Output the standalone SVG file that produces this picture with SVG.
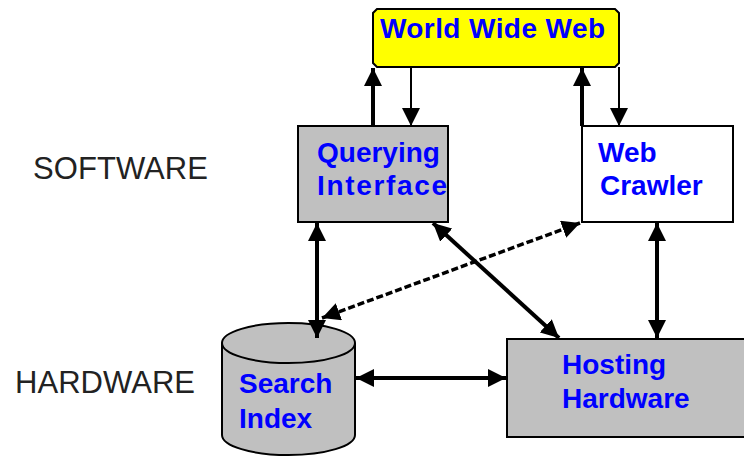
<svg xmlns="http://www.w3.org/2000/svg" width="744" height="456" viewBox="0 0 744 456">
  <style>
    .box { stroke: #000; stroke-width: 2; }
    .gray { fill: #c0c0c0; }
    .label { font-family: "Liberation Sans", Arial, sans-serif; font-weight: bold; font-size: 28px; fill: #0000ff; }
    .side { font-family: "Liberation Sans", Arial, sans-serif; font-size: 31px; fill: #222; }
    .thick { stroke: #000; stroke-width: 4; fill: none; }
    .thin { stroke: #000; stroke-width: 2; fill: none; }
    .dash { stroke: #000; stroke-width: 3.5; fill: none; stroke-dasharray: 7 3; }
  </style>
  <defs>
    <marker id="arrow" markerUnits="userSpaceOnUse" viewBox="0 0 18 18" refX="18" refY="9" markerWidth="18" markerHeight="18" orient="auto-start-reverse">
      <path d="M0,0 L18,9 L0,18 z" fill="#000"/>
    </marker>
  </defs>

  <rect width="744" height="456" fill="#fff"/>

  <!-- layer labels -->
  <text class="side" x="33" y="179" textLength="175">SOFTWARE</text>
  <text class="side" x="15" y="393" textLength="180">HARDWARE</text>

  <g id="www">
    <path class="box" fill="#ffff00" d="M377,9 H615 L619,13 V63 L615,67 H377 L373,63 V13 Z"/>
    <text class="label" x="380" y="38" textLength="225">World Wide Web</text>
  </g>

  <g id="querying">
    <rect class="box gray" x="298" y="126" width="150" height="96"/>
    <text class="label" x="317" y="162">Querying</text>
    <text class="label" x="317" y="195" textLength="130">Interface</text>
  </g>

  <g id="crawler">
    <rect class="box" fill="#fff" x="582" y="126" width="151" height="96"/>
    <text class="label" x="598" y="162">Web</text>
    <text class="label" x="600" y="195">Crawler</text>
  </g>

  <g id="search-index">
    <path class="box gray" d="M222,343 V435 A66.5,20 0 0 0 355,435 V343 A66.5,20 0 0 0 222,343 Z"/>
    <path class="box" fill="none" d="M222,343 A66.5,20 0 0 0 355,343"/>
    <text class="label" x="239" y="393">Search</text>
    <text class="label" x="239" y="428">Index</text>
  </g>

  <g id="hosting">
    <rect class="box gray" x="507" y="339" width="250" height="98"/>
    <text class="label" x="562" y="374">Hosting</text>
    <text class="label" x="562" y="408">Hardware</text>
  </g>

  <!-- connectors, drawn above the shapes so heads inside the cylinder stay visible -->
  <g id="connectors">
    <!-- querying interface <-> world wide web -->
    <line class="thick" x1="373" y1="126" x2="373" y2="68" marker-end="url(#arrow)"/>
    <line class="thin" x1="411" y1="67" x2="411" y2="126" marker-end="url(#arrow)"/>
    <!-- web crawler <-> world wide web -->
    <line class="thick" x1="582" y1="126" x2="582" y2="68" marker-end="url(#arrow)"/>
    <line class="thin" x1="619" y1="67" x2="619" y2="126" marker-end="url(#arrow)"/>
    <!-- querying interface <-> search index -->
    <line class="thick" x1="317" y1="223" x2="317" y2="338" marker-start="url(#arrow)" marker-end="url(#arrow)"/>
    <!-- querying interface <-> hosting hardware -->
    <line class="thick" x1="433" y1="223" x2="559" y2="338" marker-start="url(#arrow)" marker-end="url(#arrow)"/>
    <!-- web crawler <-> search index -->
    <line class="dash" x1="580" y1="223" x2="322" y2="318" marker-start="url(#arrow)" marker-end="url(#arrow)"/>
    <!-- web crawler <-> hosting hardware -->
    <line class="thick" x1="657" y1="223" x2="657" y2="338" marker-start="url(#arrow)" marker-end="url(#arrow)"/>
    <!-- search index <-> hosting hardware -->
    <line class="thick" x1="356" y1="378" x2="506" y2="378" marker-start="url(#arrow)" marker-end="url(#arrow)"/>
  </g>
</svg>
